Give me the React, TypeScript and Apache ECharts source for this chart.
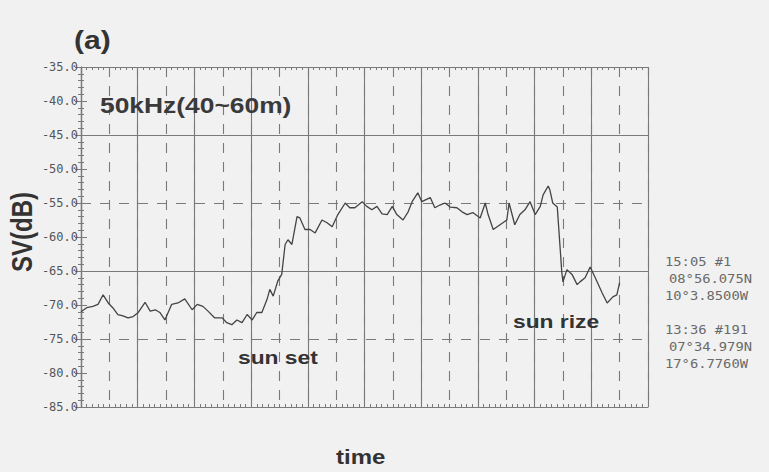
import React, { useEffect, useRef } from "react";
import * as echarts from "echarts";

// x position in plot units (0..100 across the frame), SV in dB
const timeIdx = [
  0, 1.0, 2.1, 3.0, 3.9, 4.8, 5.6, 6.5, 7.4, 8.3,
  9.2, 10.1, 11.3, 12.2, 13.1, 13.9, 14.8, 16.0, 17.1, 18.3,
  19.6, 20.5, 21.5, 22.4, 23.6, 24.9, 25.7, 26.6, 27.5, 28.4,
  29.3, 30.2, 31.0, 31.9, 32.8, 33.3, 33.9, 34.7, 35.4, 36.0,
  36.5, 37.2, 38.1, 38.6, 39.5, 40.4, 41.3, 42.5, 43.4, 44.3,
  45.3, 46.6, 47.4, 48.3, 49.6, 50.4, 51.3, 52.2, 53.1, 54.0,
  54.9, 55.7, 56.8, 57.7, 58.4, 59.4, 60.1, 61.6, 62.4, 63.3,
  64.2, 65.1, 66.3, 67.2, 68.1, 69.1, 70.4, 71.3, 71.8, 72.7,
  73.9, 75.1, 75.5, 76.5, 77.4, 78.3, 79.2, 80.1, 81.0, 81.5,
  82.4, 82.7, 83.2, 84.0, 84.8, 85.0, 85.7, 86.6, 87.5, 88.0,
  88.9, 89.8, 90.7, 91.9, 92.8, 93.8, 94.5, 95.0,
];
const svValues = [
  -71.0, -70.4, -70.2, -69.9, -68.5, -69.7, -70.4, -71.4, -71.6, -71.9,
  -71.7, -71.1, -69.6, -70.9, -70.7, -71.1, -72.2, -69.9, -69.7, -69.1,
  -70.7, -69.9, -70.2, -70.9, -71.9, -71.9, -72.6, -72.9, -72.2, -72.6,
  -71.4, -72.2, -71.1, -71.1, -69.2, -67.7, -68.7, -66.5, -65.5, -61.1,
  -60.4, -61.1, -57.0, -57.2, -58.9, -58.9, -59.4, -57.5, -57.9, -58.5,
  -56.7, -55.0, -55.7, -55.7, -54.8, -55.5, -56.0, -55.5, -56.6, -56.7,
  -55.5, -56.7, -57.5, -56.3, -54.8, -53.5, -54.8, -54.2, -55.7, -55.3,
  -55.0, -55.6, -55.7, -56.3, -56.7, -56.4, -57.2, -55.0, -56.7, -58.9,
  -58.2, -57.5, -55.0, -58.2, -56.7, -56.0, -54.8, -56.7, -55.5, -53.8,
  -52.5, -53.1, -55.0, -55.6, -65.2, -66.6, -64.8, -65.5, -67.0, -66.6,
  -66.0, -64.4, -66.0, -68.2, -69.7, -68.8, -68.5, -66.7,
];
const yMin = -85;
const yMax = -35;
const xMin = 0;
const xMax = 100;

const titleText = "(a)";
const yName = "SV(dB)";
const xName = "time";
const freqLabel = "50kHz(40~60m)";
const sunSetLabel = "sun set";
const sunRizeLabel = "sun rize";
const infoLines1 = ["15:05 #1", "08°56.075N", "10°3.8500W"];
const infoLines2 = ["13:36 #191", "07°34.979N", "17°6.7760W"];

const LINE = "#7a7a7a";
const DARK = "#333333";

export default function App() {
  const ref = useRef<HTMLDivElement>(null);
  useEffect(() => {
    if (!ref.current) return;
    const chart = echarts.init(ref.current, null, { renderer: "svg" });
    const data = timeIdx.map((t, i) => [t, svValues[i]]);
    const hidden = { show: false };
    const boldSans = "Liberation Sans, Arial, sans-serif";
    const mono = "DejaVu Sans Mono, monospace";
    const infoText = (lines: string[], y0: number) =>
      lines.map((s, i) => ({
        type: "text",
        x: i === 1 ? 669 : 665,
        y: y0 + i * 16.7,
        scaleX: 1.15,
        style: {
          text: s,
          fontFamily: mono,
          fontSize: 12,
          fill: "#6a6a6a",
          textAlign: "left",
          textVerticalAlign: "middle",
        },
      }));
    chart.setOption({
      animation: false,
      backgroundColor: "#f1f1f1",
      grid: { left: 81, top: 67, width: 567, height: 340, containLabel: false },
      xAxis: [
        {
          type: "value", min: xMin, max: xMax, interval: 10, position: "bottom",
          axisLine: { show: true, lineStyle: { color: LINE, width: 1.2 } },
          axisTick: { show: true, inside: true, length: 6, lineStyle: { color: LINE } },
          minorTick: { show: true, splitNumber: 10, length: 3, lineStyle: { color: LINE } },
          axisLabel: hidden,
          splitLine: { show: true, lineStyle: { color: LINE, width: 1.1 } },
        },
        {
          type: "value", min: xMin, max: xMax, interval: 10, position: "top",
          axisLine: { show: true, lineStyle: { color: LINE, width: 1.2 } },
          axisTick: { show: true, inside: true, length: 6, lineStyle: { color: LINE } },
          minorTick: { show: true, splitNumber: 10, length: 3, lineStyle: { color: LINE } },
          axisLabel: hidden,
          splitLine: hidden,
        },
        {
          type: "value", min: xMin, max: xMax, interval: 5, position: "bottom",
          axisLine: hidden, axisTick: hidden, axisLabel: hidden,
          splitLine: { show: true, lineStyle: { color: LINE, width: 1.1, type: [10, 9] } },
        },
      ],
      yAxis: [
        {
          type: "value", min: yMin, max: yMax, interval: 5, position: "left",
          axisLine: { show: true, lineStyle: { color: LINE, width: 1.2 } },
          axisTick: { show: true, inside: true, length: 6, lineStyle: { color: LINE } },
          minorTick: { show: true, splitNumber: 5, length: 3, lineStyle: { color: LINE } },
          axisLabel: {
            show: true, margin: 3, color: "#555", fontFamily: mono, fontSize: 12,
            formatter: (v: number) => v.toFixed(1),
          },
          splitLine: hidden,
        },
        {
          type: "value", min: yMin, max: yMax, interval: 5, position: "right",
          axisLine: { show: true, lineStyle: { color: LINE, width: 1.2 } },
          axisTick: { show: true, inside: true, length: 6, lineStyle: { color: LINE } },
          minorTick: { show: true, splitNumber: 5, length: 3, lineStyle: { color: LINE } },
          axisLabel: hidden,
          splitLine: hidden,
        },
        {
          type: "value", min: yMin, max: yMax, interval: 10, position: "left",
          axisLine: hidden, axisTick: hidden, axisLabel: hidden,
          splitLine: { show: true, lineStyle: { color: LINE, width: 1.1, type: [10, 9] } },
        },
        {
          type: "value", min: yMin, max: yMax, interval: 20, position: "left",
          axisLine: hidden, axisTick: hidden, axisLabel: hidden,
          splitLine: { show: true, lineStyle: { color: LINE, width: 1.2 } },
        },
      ],
      series: [
        {
          type: "line",
          xAxisIndex: 0,
          yAxisIndex: 0,
          data,
          symbol: "none",
          lineStyle: { color: "#444444", width: 1.3 },
          z: 5,
        },
      ],
      graphic: [
        {
          type: "text", x: 74, y: 40, scaleX: 1.2,
          style: { text: titleText, fontFamily: boldSans, fontWeight: "bold", fontSize: 25, fill: DARK, textAlign: "left", textVerticalAlign: "middle" },
        },
        {
          type: "text", x: 22, y: 232, rotation: Math.PI / 2, scaleY: 1.2,
          style: { text: yName, fontFamily: boldSans, fontWeight: "bold", fontSize: 24, fill: DARK, textAlign: "center", textVerticalAlign: "middle" },
        },
        {
          type: "text", x: 336, y: 457, scaleX: 1.2,
          style: { text: xName, fontFamily: boldSans, fontWeight: "bold", fontSize: 20, fill: DARK, textAlign: "left", textVerticalAlign: "middle" },
        },
        {
          type: "text", x: 100, y: 105, scaleX: 1.2, z: 10,
          style: { text: freqLabel, fontFamily: boldSans, fontWeight: "bold", fontSize: 22, fill: "#3a3a3a", textAlign: "left", textVerticalAlign: "middle" },
        },
        {
          type: "text", x: 238, y: 357, scaleX: 1.2, z: 10,
          style: { text: sunSetLabel, fontFamily: boldSans, fontWeight: "bold", fontSize: 19, fill: DARK, textAlign: "left", textVerticalAlign: "middle" },
        },
        {
          type: "text", x: 513, y: 321, scaleX: 1.2, z: 10,
          style: { text: sunRizeLabel, fontFamily: boldSans, fontWeight: "bold", fontSize: 19, fill: DARK, textAlign: "left", textVerticalAlign: "middle" },
        },
        ...infoText(infoLines1, 262),
        ...infoText(infoLines2, 330),
      ],
    });
    return () => chart.dispose();
  }, []);
  return (
    <div
      ref={ref}
      style={{ position: "fixed", left: 0, top: 0, width: 769, height: 472 }}
    />
  );
}
